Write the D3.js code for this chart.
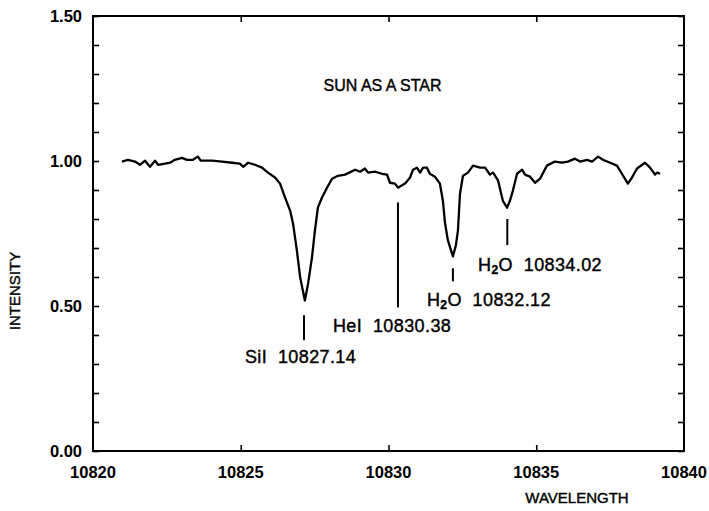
<!DOCTYPE html>
<html>
<head>
<meta charset="utf-8">
<script src="https://cdn.jsdelivr.net/npm/d3@7"></script>
<style>
  body { margin: 0; background: #fff; }
  text { font-family: "Liberation Sans", Arial, sans-serif; fill: #000; }
  .plain { stroke: #000; stroke-width: 0.4px; }
</style>
</head>
<body>
<script>
// spectrum
let wavelength = [10820.98, 10821.18, 10821.42, 10821.59, 10821.76, 10821.93, 10822.10, 10822.20, 10822.44, 10822.61,
  10822.77, 10823.01, 10823.18, 10823.38, 10823.55, 10823.65, 10824.03, 10824.37, 10824.70, 10824.97,
  10825.08, 10825.25, 10825.48, 10825.72, 10825.92, 10826.16, 10826.33, 10826.50, 10826.67, 10826.77,
  10826.90, 10827.01, 10827.17, 10827.28, 10827.41, 10827.51, 10827.61, 10827.75, 10827.92, 10828.09,
  10828.29, 10828.53, 10828.87, 10829.04, 10829.20, 10829.31, 10829.54, 10829.78, 10829.95, 10830.05,
  10830.22, 10830.32, 10830.56, 10830.73, 10830.83, 10830.96, 10831.07, 10831.17, 10831.30, 10831.40,
  10831.57, 10831.74, 10831.84, 10831.91, 10832.01, 10832.18, 10832.28, 10832.35, 10832.42, 10832.52,
  10832.69, 10832.86, 10833.10, 10833.27, 10833.43, 10833.54, 10833.71, 10833.87, 10834.01, 10834.11,
  10834.21, 10834.35, 10834.52, 10834.62, 10834.79, 10834.96, 10835.13, 10835.36, 10835.63, 10835.87,
  10836.07, 10836.31, 10836.48, 10836.72, 10836.89, 10837.09, 10837.26, 10837.50, 10837.73, 10837.90,
  10838.10, 10838.24, 10838.41, 10838.68, 10838.85, 10839.02, 10839.09, 10839.19];
let intensity = [0.998, 1.004, 0.998, 0.987, 1.001, 0.980, 1.001, 0.987, 0.991, 0.994,
  1.004, 1.011, 1.004, 1.004, 1.015, 1.001, 1.001, 0.998, 0.994, 0.991,
  0.980, 0.994, 0.987, 0.977, 0.960, 0.943, 0.922, 0.874, 0.829, 0.784,
  0.691, 0.599, 0.519, 0.578, 0.667, 0.760, 0.839, 0.874, 0.908, 0.939,
  0.949, 0.953, 0.970, 0.963, 0.974, 0.960, 0.963, 0.956, 0.953, 0.925,
  0.922, 0.908, 0.922, 0.943, 0.970, 0.977, 0.960, 0.977, 0.977, 0.956,
  0.946, 0.922, 0.863, 0.788, 0.726, 0.671, 0.709, 0.760, 0.888, 0.949,
  0.960, 0.984, 0.977, 0.977, 0.953, 0.960, 0.932, 0.863, 0.839, 0.863,
  0.898, 0.956, 0.970, 0.953, 0.946, 0.925, 0.939, 0.984, 0.998, 0.994,
  0.998, 1.008, 0.998, 1.004, 0.998, 1.015, 1.004, 0.994, 0.984, 0.956,
  0.922, 0.943, 0.974, 0.994, 0.977, 0.953, 0.960, 0.956];

let xTicks = [10820, 10825, 10830, 10835, 10840];
let yTicks = [0.00, 0.50, 1.00, 1.50];

// line identifications: marker x, marker top/bottom, label anchor
let lineIds = [
  {ion: "SiI", sub: null, lambda: 10827.14, top: 0.468, bottom: 0.382, lx: 10825.14, ly: 0.303},
  {ion: "HeI", sub: null, lambda: 10830.32, top: 0.857, bottom: 0.495, lx: 10828.12, ly: 0.41},
  {ion: "H", sub: "2", lambda: 10832.18, top: 0.630, bottom: 0.585, lx: 10831.30, ly: 0.50},
  {ion: "H", sub: "2", lambda: 10834.02, top: 0.80, bottom: 0.71, lx: 10833.03, ly: 0.62}
];
let lineNames = ["10827.14", "10830.38", "10832.12", "10834.02"];

let w = 709, h = 511;
let margin = {top: 16, right: 25, bottom: 60, left: 93};
let width = w - margin.left - margin.right, height = h - margin.top - margin.bottom;

let svg = d3.select("body").append("svg").attr("width", w).attr("height", h);
let g = svg.append("g").attr("transform", "translate(" + margin.left + "," + margin.top + ")");

let x = d3.scaleLinear().domain([10820, 10840]).range([0, width]);
let y = d3.scaleLinear().domain([0, 1.5]).range([height, 0]);

// frame
g.append("rect").attr("width", width).attr("height", height)
  .attr("fill", "none").attr("stroke", "#000").attr("stroke-width", 2);

// inward ticks, all four sides
let yMinor = d3.range(0, 1.51, 0.1);
let xInner = xTicks.slice(1, -1);
function tickAxis(axis) {
  return axis.tickFormat("").tickSizeOuter(0);
}
g.append("g").call(tickAxis(d3.axisLeft(y).tickValues(yMinor).tickSizeInner(-6)));
g.append("g").attr("transform", "translate(" + width + ",0)")
  .call(tickAxis(d3.axisRight(y).tickValues(yMinor).tickSizeInner(-6)));
g.append("g").attr("transform", "translate(0," + height + ")")
  .call(tickAxis(d3.axisBottom(x).tickValues(xInner).tickSizeInner(-6)));
g.append("g").call(tickAxis(d3.axisTop(x).tickValues(xInner).tickSizeInner(-6)));
g.selectAll(".domain").remove();
g.selectAll(".tick line").attr("stroke", "#000").attr("stroke-width", 1.6);

// tick labels
g.selectAll(".ylab").data(yTicks).enter().append("text")
  .attr("x", -11).attr("y", d => y(d) + 6)
  .attr("text-anchor", "end").attr("font-size", "16.5px").attr("font-weight", "bold")
  .text(d => d.toFixed(2));
g.selectAll(".xlab").data(xTicks).enter().append("text")
  .attr("x", d => x(d)).attr("y", height + 27)
  .attr("text-anchor", "middle").attr("font-size", "16.5px").attr("font-weight", "bold")
  .text(d => d);

// axis titles + title
svg.append("text").attr("class", "plain").attr("transform", "translate(20,291) rotate(-90)")
  .attr("text-anchor", "middle").attr("font-size", "15px").text("INTENSITY");
svg.append("text").attr("class", "plain").attr("x", 577).attr("y", 503)
  .attr("text-anchor", "middle").attr("font-size", "15px").text("WAVELENGTH");
g.append("text").attr("class", "plain").attr("x", x(10829.8)).attr("y", y(1.24))
  .attr("text-anchor", "middle").attr("font-size", "16px").text("SUN AS A STAR");

// spectrum
let pts = wavelength.map((d, i) => [d, intensity[i]]);
g.append("path").datum(pts)
  .attr("fill", "none").attr("stroke", "#000").attr("stroke-width", 2.3)
  .attr("stroke-linejoin", "round")
  .attr("d", d3.line().x(d => x(d[0])).y(d => y(d[1])));

// identification marks
lineIds.forEach(function (d, i) {
  g.append("line")
    .attr("x1", x(d.lambda)).attr("x2", x(d.lambda))
    .attr("y1", y(d.top)).attr("y2", y(d.bottom))
    .attr("stroke", "#000").attr("stroke-width", 2);
  let t = g.append("text").attr("class", "plain").attr("x", x(d.lx)).attr("y", y(d.ly))
    .attr("font-size", "18px").attr("letter-spacing", "0.4px");
  t.append("tspan").text(d.ion);
  if (d.sub) {
    t.append("tspan").attr("font-size", "12px").attr("font-weight", "bold").attr("dy", 3).text(d.sub);
    t.append("tspan").attr("dy", -3).text("O");
  }
  t.append("tspan").text("\u00a0 " + lineNames[i]);
});
</script>
</body>
</html>
